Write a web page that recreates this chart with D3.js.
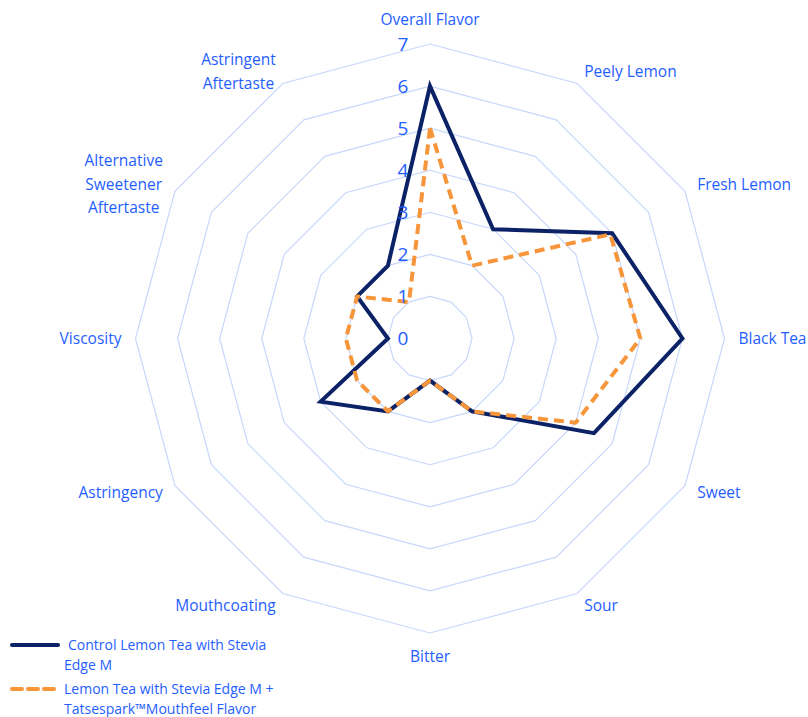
<!DOCTYPE html>
<html>
<head>
<meta charset="utf-8">
<script src="https://cdn.jsdelivr.net/npm/d3@7"></script>
<style>
  body { margin: 0; background: #fff; }
  svg { display: block; font-family: "Open Sans", Lato, sans-serif; }
</style>
</head>
<body>
<svg id="chart" width="808" height="717"></svg>
<script>
// --- data ---
const categories = [
  ['Overall Flavor'], ['Peely Lemon'], ['Fresh Lemon'], ['Black Tea'], ['Sweet'], ['Sour'],
  ['Bitter'], ['Mouthcoating'], ['Astringency'], ['Viscosity'],
  ['Alternative', 'Sweetener', 'Aftertaste'], ['Astringent', 'Aftertaste']
];
const controlValues = [6, 3, 5, 6, 4.5, 2, 1, 2, 3, 1, 2, 2];
const tatsesparkValues = [5, 2, 4.95, 5, 4, 2, 1, 2, 2, 2, 2, 1];
const tickValues = [0, 1, 2, 3, 4, 5, 6, 7];
const seriesNames = [
  ['Control Lemon Tea with Stevia', 'Edge M'],
  ['Lemon Tea with Stevia Edge M +', 'Tatsespark™Mouthfeel Flavor']
];

const textColor = '#1f5eff';
const gridColor = '#c8d8fa';
const navy = '#0c2266';
const orange = '#f7953a';

const svg = d3.select('#chart');
const cx = 430, cy = 338.5, R = 294.5;

const r = d3.scaleLinear().domain([0, 7]).range([0, R]);
const angle = d3.scalePoint().domain(d3.range(categories.length)).range([0, 2 * Math.PI * (categories.length - 1) / categories.length]);

const g = svg.append('g').attr('transform', `translate(${cx},${cy})`);

const radial = d3.lineRadial()
  .angle((d, i) => angle(i))
  .radius(d => r(d))
  .curve(d3.curveLinearClosed);

// --- grid rings ---
g.selectAll('.ring')
  .data(tickValues.filter(v => v > 0))
  .join('path')
  .attr('class', 'ring')
  .attr('d', v => radial(categories.map(() => v)))
  .attr('fill', 'none')
  .attr('stroke', gridColor)
  .attr('stroke-width', 1.2);

// --- series ---
g.append('path')
  .attr('d', radial(controlValues))
  .attr('fill', 'none')
  .attr('stroke', navy)
  .attr('stroke-width', 4)
  .attr('stroke-linejoin', 'miter');

g.append('path')
  .attr('d', radial(tatsesparkValues))
  .attr('fill', 'none')
  .attr('stroke', orange)
  .attr('stroke-width', 4)
  .attr('stroke-dasharray', '10,6')
  .attr('stroke-linejoin', 'round');

// --- tick labels ---
g.selectAll('.tick')
  .data(tickValues)
  .join('text')
  .attr('class', 'tick')
  .attr('x', -27)
  .attr('y', v => -r(v))
  .attr('dy', '0.36em')
  .attr('text-anchor', 'middle')
  .attr('fill', textColor)
  .attr('font-size', 19)
  .text(v => v);

// --- category labels ---
const labelR = R + 14;
const lineH = 23.5;
categories.forEach((lines, i) => {
  const a = angle(i);
  const sx = Math.sin(a), sy = -Math.cos(a);
  let x = sx * labelR, y = sy * labelR;
  let anchor = 'middle';
  if (sx > 0.01) anchor = 'start';
  else if (sx < -0.01) anchor = 'end';
  if (Math.abs(sx) < 0.01) y += sy * 10;

  const t = g.append('text')
    .attr('fill', textColor)
    .attr('font-size', 15.5);
  const y0 = y - (lines.length - 1) * lineH / 2;
  lines.forEach((ln, k) => {
    t.append('tspan').attr('y', y0 + k * lineH).attr('dy', '0.35em').text(ln);
  });
  // center multi-line labels inside their block
  const tsp = t.selectAll('tspan').nodes();
  const widths = tsp.map(n => n.getComputedTextLength());
  const w = d3.max(widths);
  let left = anchor === 'start' ? x : anchor === 'end' ? x - w : x - w / 2;
  tsp.forEach((n, k) => d3.select(n).attr('x', left + (w - widths[k]) / 2));
});

// --- legend ---
const legend = svg.append('g');
const legendItems = [
  { name: seriesNames[0], color: navy, dash: null, y: 645 },
  { name: seriesNames[1], color: orange, dash: '10,6', y: 689 }
];
legendItems.forEach(d => {
  legend.append('line')
    .attr('x1', 12).attr('x2', 58)
    .attr('y1', d.y).attr('y2', d.y)
    .attr('stroke', d.color)
    .attr('stroke-width', 4)
    .attr('stroke-linecap', 'round')
    .attr('stroke-dasharray', d.dash);
  const t = legend.append('text').attr('fill', textColor).attr('font-size', 14);
  d.name.forEach((ln, k) => {
    t.append('tspan').attr('x', k === 0 && !d.dash ? 68 : 64).attr('y', d.y + k * 20).attr('dy', '0.35em').text(ln);
  });
});
</script>
</body>
</html>
